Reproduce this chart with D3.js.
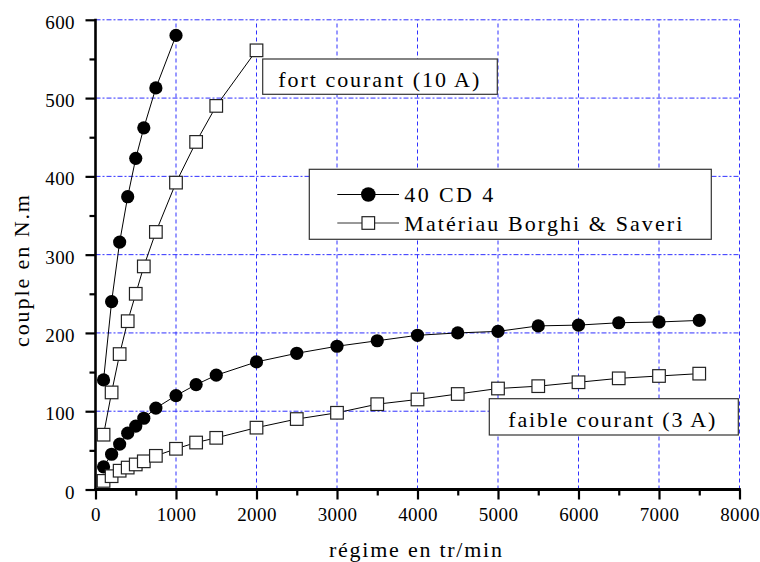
<!DOCTYPE html>
<html><head><meta charset="utf-8">
<script src="https://cdn.jsdelivr.net/npm/d3@7"></script>
<style>
body{margin:0;background:#fff}
svg{display:block}
text{font-family:"Liberation Serif","Times New Roman",serif;fill:#000}
</style>
</head><body>
<svg id="c" width="760" height="562"></svg>
<script>
// ---- data (régime in tr/min, couple in N.m) ----
const rpmHigh = [100, 200, 300, 400, 500, 600, 750, 1000, 1250, 1500, 2000];
const torqueHigh40CD4 = [140, 240, 316, 374, 423, 462, 513, 580];           // first 8 rpm values
const torqueHighBorghi = [70, 124, 173, 215, 250, 285, 329, 392, 444, 490, 561];
const rpmLow = [100, 200, 300, 400, 500, 600, 750, 1000, 1250, 1500, 2000, 2500, 3000, 3500, 4000, 4500, 5000, 5500, 6000, 6500, 7000, 7500];
const torqueLow40CD4 = [29, 45, 58, 72, 81, 91, 104, 120, 134, 146, 163, 174, 183, 190, 197, 200, 202, 209, 210, 213, 214, 216];
const torqueLowBorghi = [11, 17, 24, 28, 32, 36, 43, 52, 60, 66, 79, 90, 98, 109, 115, 122, 129, 132, 137, 142, 145, 148];
const xTicks = [0, 1000, 2000, 3000, 4000, 5000, 6000, 7000, 8000];
const xMinorTicks = [500, 1500, 2500, 3500, 4500, 5500, 6500, 7500];
const yTicks = [0, 100, 200, 300, 400, 500, 600];
const yMinorTicks = [50, 150, 250, 350, 450, 550];
const seriesNames = ["40 CD 4", "Matériau Borghi & Saveri"];
const annotations = ["fort courant (10 A)", "faible courant (3 A)"];
const xTitle = "régime en tr/min";
const yTitle = "couple en N.m";

const svg = d3.select("#c");
const x = d3.scaleLinear().domain([0, 8000]).range([95.5, 739.5]);
const y = d3.scaleLinear().domain([0, 600]).range([489.5, 19.8]);
const gridColor = "#3030ff";

// grid
svg.append("g").selectAll("line").data(xTicks.filter(d => d > 0)).join("line")
  .attr("x1", d => x(d)).attr("x2", d => x(d)).attr("y1", y(0)).attr("y2", y(600))
  .attr("stroke", gridColor).attr("stroke-width", 1).attr("stroke-dasharray", "4,3");
svg.append("g").selectAll("line").data(yTicks.filter(d => d > 0)).join("line")
  .attr("x1", x(0)).attr("x2", x(8000)).attr("y1", d => y(d)).attr("y2", d => y(d))
  .attr("stroke", gridColor).attr("stroke-width", 1).attr("stroke-dasharray", "5,2,2,2");

// series
const line = d3.line().x(d => x(d[0])).y(d => y(d[1]));
const series = [
  {pts: d3.zip(rpmHigh, torqueHigh40CD4), type: "circle"},
  {pts: d3.zip(rpmLow, torqueLow40CD4), type: "circle"},
  {pts: d3.zip(rpmHigh, torqueHighBorghi), type: "square"},
  {pts: d3.zip(rpmLow, torqueLowBorghi), type: "square"}
];
series.forEach(s => {
  svg.append("path").attr("d", line(s.pts)).attr("fill", "none")
    .attr("stroke", "#000").attr("stroke-width", 1);
});
series.forEach(s => {
  const g = svg.append("g");
  if (s.type === "circle") {
    g.selectAll("circle").data(s.pts).join("circle")
      .attr("cx", d => x(d[0])).attr("cy", d => y(d[1])).attr("r", 6.6).attr("fill", "#000");
  } else {
    g.selectAll("rect").data(s.pts).join("rect")
      .attr("x", d => x(d[0]) - 6.3).attr("y", d => y(d[1]) - 6.3)
      .attr("width", 12.6).attr("height", 12.6)
      .attr("fill", "#fff").attr("stroke", "#222").attr("stroke-width", 1.2);
  }
});

// annotation boxes
function box(x0, y0, w, h) {
  svg.append("rect").attr("x", x0).attr("y", y0).attr("width", w).attr("height", h)
    .attr("fill", "#fff").attr("stroke", "#333").attr("stroke-width", 1.2);
}
box(262.7, 59, 234.6, 35.3);
svg.append("text").attr("x", 278.3).attr("y", 86.5).attr("font-size", 22)
  .attr("textLength", 201).attr("lengthAdjust", "spacing").text(annotations[0]);
box(489.3, 398.7, 249, 36.3);
svg.append("text").attr("x", 508.3).attr("y", 426.5).attr("font-size", 22)
  .attr("textLength", 207).attr("lengthAdjust", "spacing").text(annotations[1]);

// legend
box(309.3, 169.3, 402, 70);
const legRows = [{y: 194.5, type: "circle", tb: 201.5}, {y: 223, type: "square", tb: 230.5}];
legRows.forEach((r, i) => {
  svg.append("line").attr("x1", 337.3).attr("x2", 399).attr("y1", r.y).attr("y2", r.y)
    .attr("stroke", i === 0 ? "#000" : "#333").attr("stroke-width", 1);
  if (r.type === "circle") {
    svg.append("circle").attr("cx", 368.3).attr("cy", r.y).attr("r", 7.3).attr("fill", "#000");
  } else {
    svg.append("rect").attr("x", 362).attr("y", r.y - 6.3).attr("width", 12.6).attr("height", 12.6)
      .attr("fill", "#fff").attr("stroke", "#222").attr("stroke-width", 1.2);
  }
  svg.append("text").attr("x", 404.3).attr("y", r.tb).attr("font-size", 22)
    .attr("textLength", i === 0 ? 89 : 278).attr("lengthAdjust", "spacing").text(seriesNames[i]);
});

// axes
const fmt = d3.format("d");
const yAx = svg.append("g").attr("transform", `translate(${x(0)},0)`)
  .call(d3.axisLeft(y).tickValues(yTicks).tickSize(10).tickPadding(10.5).tickFormat(fmt));
const yAxMinor = svg.append("g").attr("transform", `translate(${x(0)},0)`)
  .call(d3.axisLeft(y).tickValues(yMinorTicks).tickSize(6).tickFormat(""));
const xAx = svg.append("g").attr("transform", `translate(0,${y(0)})`)
  .call(d3.axisBottom(x).tickValues(xTicks).tickSize(10).tickPadding(8).tickFormat(fmt));
const xAxMinor = svg.append("g").attr("transform", `translate(0,${y(0)})`)
  .call(d3.axisBottom(x).tickValues(xMinorTicks).tickSize(6).tickFormat(""));
[yAx, yAxMinor, xAx, xAxMinor].forEach(g => {
  g.select(".domain").remove();
  g.selectAll(".tick line").attr("stroke", "#000").attr("stroke-width", 2.2);
  g.selectAll(".tick text").attr("font-family", "Liberation Serif").attr("font-size", 19)
    .attr("letter-spacing", "0.4px").attr("fill", "#000");
});
yAx.selectAll(".tick text").attr("dy", "0.45em");
svg.append("line").attr("x1", x(0)).attr("x2", x(0)).attr("y1", y(600) - 1).attr("y2", y(0) + 1.5)
  .attr("stroke", "#000").attr("stroke-width", 2.6);
svg.append("line").attr("x1", x(0) - 1.3).attr("x2", x(8000) + 1.3).attr("y1", y(0)).attr("y2", y(0))
  .attr("stroke", "#000").attr("stroke-width", 2.8);

// titles
svg.append("text").attr("x", 415.5).attr("y", 557).attr("text-anchor", "middle")
  .attr("font-size", 22).attr("textLength", 173).attr("lengthAdjust", "spacing").text(xTitle);
svg.append("text").attr("transform", "translate(29,271) rotate(-90)").attr("text-anchor", "middle")
  .attr("font-size", 22).attr("textLength", 152).attr("lengthAdjust", "spacing").text(yTitle);
</script>
</body></html>
